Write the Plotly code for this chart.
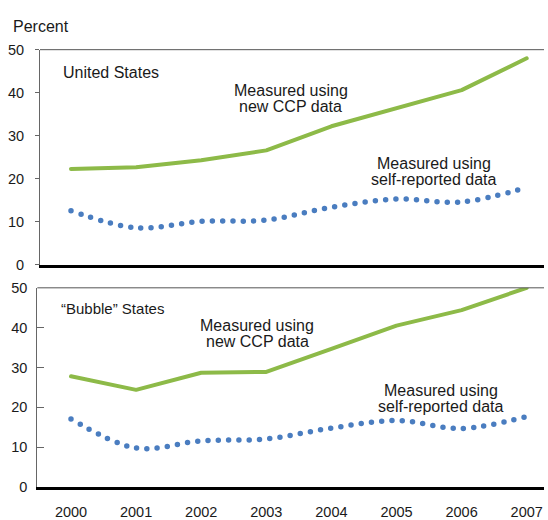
import plotly.graph_objects as go

W, H = 548, 520

years = [2000, 2001, 2002, 2003, 2004, 2005, 2006, 2007]
us_ccp = [22.3, 22.7, 24.3, 26.6, 32.2, 36.3, 40.6, 48.0]
us_self = [12.6, 8.6, 10.1, 10.4, 13.4, 15.3, 14.6, 18.0]
bub_ccp = [27.8, 24.4, 28.7, 28.9, 34.7, 40.5, 44.4, 50.0]
bub_self = [17.1, 9.8, 11.6, 12.1, 14.8, 16.7, 14.7, 17.7]
y_ticks = [0, 10, 20, 30, 40, 50]
year_labels = ["2000", "2001", "2002", "2003", "2004", "2005", "2006", "2007"]

GREEN = "#8DBA48"
BLUE = "#4A7DC0"
TXT = "#1a1a1a"
FONT = "Liberation Sans, Arial, sans-serif"

def xp(px):
    return px / W

def yp(py):
    return 1 - py / H

fig = go.Figure()

for xa, ya, ccp, selfr in [("x", "y", us_ccp, us_self), ("x2", "y2", bub_ccp, bub_self)]:
    fig.add_trace(go.Scatter(x=years, y=ccp, xaxis=xa, yaxis=ya, mode="lines",
                             line=dict(color=GREEN, width=4), cliponaxis=False,
                             hoverinfo="skip", showlegend=False))
    fig.add_trace(go.Scatter(x=years, y=selfr, xaxis=xa, yaxis=ya, mode="lines",
                             line=dict(color=BLUE, width=5.5, dash="0px,10.3px",
                                       shape="spline", smoothing=1),
                             cliponaxis=False, hoverinfo="skip", showlegend=False))

s = 65.1
x_right = 544
fig.update_layout(
    width=W, height=H,
    margin=dict(l=0, r=0, t=0, b=0),
    paper_bgcolor="white", plot_bgcolor="white",
    font=dict(family=FONT, color=TXT, size=14.5),
    xaxis=dict(domain=[xp(40), xp(x_right)], range=[2000 - (71 - 40) / s, 2000 + (x_right - 71) / s],
               showticklabels=False, ticks="", showgrid=False, zeroline=False,
               showline=True, linecolor="black", linewidth=2.5, anchor="y"),
    yaxis=dict(domain=[yp(265), yp(43)], range=[0, 50], tickvals=y_ticks,
               ticks="outside", ticklen=4, tickcolor="#666", showgrid=False, zeroline=False,
               showline=True, linecolor="#666", linewidth=1, ticklabelstandoff=8,
               anchor="x"),
    xaxis2=dict(domain=[xp(37.3), xp(x_right)], range=[2000 - (71 - 37.3) / s, 2000 + (x_right - 71) / s],
                tickvals=years, ticktext=year_labels, ticks="", showgrid=False, zeroline=False,
                showline=True, linecolor="black", linewidth=2.5, ticklabelstandoff=10,
                anchor="y2"),
    yaxis2=dict(domain=[yp(494.3), yp(288.7)], range=[0, 50], tickvals=y_ticks,
                ticks="inside", ticklen=7, tickcolor="#666", showgrid=False, zeroline=False,
                showline=True, linecolor="#666", linewidth=1, ticklabelstandoff=6,
                anchor="x2"),
)

# top borders of each panel
for xr, yr in [("x domain", "y domain"), ("x2 domain", "y2 domain")]:
    fig.add_shape(type="line", xref=xr, yref=yr, x0=0, x1=1, y0=1, y1=1,
                  line=dict(color="#555", width=1))

def ann(text, x, y, size=16, xanchor="center"):
    fig.add_annotation(text=text, x=xp(x), y=yp(y), xref="paper", yref="paper",
                       xanchor=xanchor, yanchor="middle", showarrow=False,
                       font=dict(size=size, color=TXT, family=FONT))

ann("Percent", 10.7, 19.5, 16, "left")
ann("United States", 60.7, 66.5, 16, "left")
ann("Measured using", 290.7, 85.5)
ann("new CCP data", 290.7, 101.5)
ann("Measured using", 433.7, 160.5)
ann("self-reported data", 433.7, 177)
ann("\u201cBubble\u201d States", 59.3, 310, 15, "left")
ann("Measured using", 257, 328)
ann("new CCP data", 257, 344.5)
ann("Measured using", 441, 394.5)
ann("self-reported data", 441, 411)

post = ("var st=document.createElement('style');"
        "st.textContent='html,body{margin:0;padding:0;overflow:hidden}"
        ".scatterlayer .js-line{stroke-linecap:round;stroke-linejoin:round}';"
        "document.head.appendChild(st);")

fig.write_html("out.html", post_script=post, config={"displayModeBar": False})
